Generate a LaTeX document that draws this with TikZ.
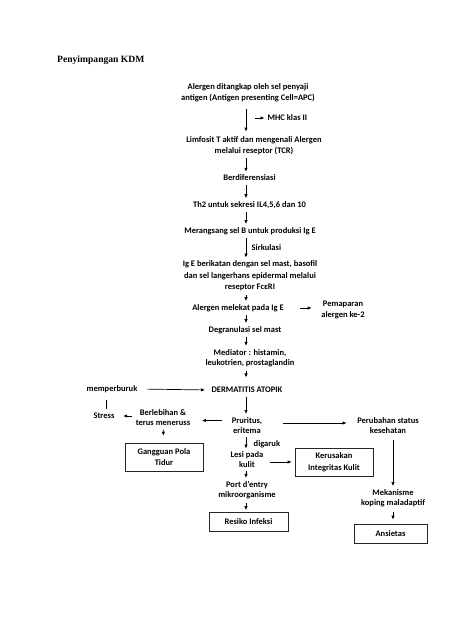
\documentclass[tikz,border=0pt]{standalone}
\usepackage{fontspec}
\newfontfamily\cf{Carlito}
\newfontfamily\tf{Liberation Serif}
\usetikzlibrary{arrows.meta}
\begin{document}
\begin{tikzpicture}[x=1pt,y=-1pt,
  txt/.style={font=\cf\bfseries\fontsize{8.5}{11}\selectfont, align=center, inner sep=1.5pt},
  boxn/.style={txt, draw=black!85, line width=0.6pt, inner sep=0pt},
  arr/.style={-{Latex[length=4pt,width=3.4pt]}, line width=0.7pt, shorten <=2pt, shorten >=1.5pt},
  ln/.style={line width=0.7pt}]
\useasboundingbox[fill=white] (0,0) rectangle (474,632);
\coordinate (colx) at (246,0);
\coordinate (colr) at (393,0);

\node[anchor=west, inner sep=0pt, font=\tf\bfseries\fontsize{9.6}{11}\selectfont] (title) at (57,60) {Penyimpangan KDM};

\node[txt] (a1) at (248,93) {Alergen ditangkap oleh sel penyaji\\antigen (Antigen presenting Cell=APC)};
\coordinate (mhcs) at (253,118);
\node[txt, anchor=west] (mhc) at (266,118) {MHC klas II};
\node[txt] (a2) at (254,145.5) {Limfosit T aktif dan mengenali Alergen\\melalui reseptor (TCR)};
\node[txt] (a3) at (249.5,178) {Berdiferensiasi};
\node[txt] (a4) at (249.5,205) {Th2 untuk sekresi IL4,5,6 dan 10};
\node[txt] (a5) at (250,231) {Merangsang sel B untuk produksi Ig E};
\node[txt, anchor=west] (sirk) at (250,248) {Sirkulasi};
\node[txt, font=\cf\bfseries\fontsize{8.5}{11.5}\selectfont] (a6) at (250,276) {Ig E berikatan dengan sel mast, basofil\\dan sel langerhans epidermal melalui\\reseptor FcεRI};
\node[txt] (a7) at (238,308) {Alergen melekat pada Ig E};
\node[txt, font=\cf\bfseries\fontsize{8.5}{10.5}\selectfont] (pem) at (343,310) {Pemaparan\\alergen ke-2};
\node[txt] (a8) at (245,330) {Degranulasi sel mast};
\node[txt, font=\cf\bfseries\fontsize{8.5}{10.5}\selectfont] (a9) at (250,358) {Mediator : histamin,\\leukotrien, prostaglandin};
\node[txt] (a10) at (247,390) {DERMATITIS ATOPIK};
\node[txt] (mp) at (112,389) {memperburuk};
\node[txt] (stress) at (104,416) {Stress};
\node[txt, font=\cf\bfseries\fontsize{8.5}{10}\selectfont] (ber) at (163,418) {Berlebihan \&\\terus meneruss};
\node[boxn, minimum width=78pt, minimum height=28pt, font=\cf\bfseries\fontsize{8.5}{10.5}\selectfont] (gpt) at (164,457) {Gangguan Pola\\Tidur};
\node[txt, font=\cf\bfseries\fontsize{8.5}{10.5}\selectfont] (pru) at (247,425.5) {Pruritus,\\eritema};
\node[txt, font=\cf\bfseries\fontsize{8.5}{10.5}\selectfont] (peru) at (388,425.5) {Perubahan status\\kesehatan};
\node[txt, anchor=west] (dig) at (252,444) {digaruk};
\node[txt, font=\cf\bfseries\fontsize{8.5}{9.5}\selectfont] (lesi) at (247,459.5) {Lesi pada\\kulit};
\node[boxn, minimum width=78pt, minimum height=28pt, font=\cf\bfseries\fontsize{8.5}{12}\selectfont] (kib) at (334,462) {Kerusakan\\Integritas Kulit};
\node[txt, font=\cf\bfseries\fontsize{8.5}{10}\selectfont] (port) at (247,490) {Port d’entry\\mikroorganisme};
\node[boxn, minimum width=79pt, minimum height=19pt] (ri) at (248.5,521.5) {Resiko Infeksi};
\node[txt, font=\cf\bfseries\fontsize{8.5}{10}\selectfont] (mek) at (393,498) {Mekanisme\\koping maladaptif};
\node[boxn, minimum width=73pt, minimum height=19pt] (ans) at (390.5,533.5) {Ansietas};

% main column
\draw[arr, shorten <=5pt, shorten >=3pt] (a1.south -| colx) -- (a2.north -| colx);
\draw[arr] (mhcs) -- (mhc.west);
\draw[arr] (a2.south -| colx) -- (a3.north -| colx);
\draw[arr] (a3.south -| colx) -- (a4.north -| colx);
\draw[arr] (a4.south -| colx) -- (a5.north -| colx);
\draw[arr] (a5.south -| colx) -- (a6.north -| colx);
\draw[arr] (a6.south -| colx) -- (a7.north -| colx);
\draw[arr, shorten <=15pt, shorten >=8pt] (a7.east) -- (pem.west |- a7.east);
\draw[arr] (a7.south -| colx) -- (a8.north -| colx);
\draw[arr] (a8.south -| colx) -- (a9.north -| colx);
\draw[arr, shorten >=8pt] (a9.south -| colx) -- (a10.north -| colx);
\draw[arr, shorten <=8pt, shorten >=5pt] (mp.east) -- (a10.west);
\draw[ln, shorten <=6pt, shorten >=2pt] ([xshift=-6pt]mp.south) -- ([xshift=-6pt]mp.south |- stress.north);
\draw[arr, shorten <=2pt, shorten >=7pt] (ber.west |- stress) -- (stress.east);
\draw[arr, shorten <=8pt, shorten >=10pt] ([yshift=5pt]pru.west) -- ([yshift=5pt]pru.west -| ber.east);
\draw[arr, shorten <=2pt, shorten >=7pt] (ber.south) -- (gpt.north);
\draw[arr] (a10.south -| colx) -- (pru.north -| colx);
\draw[arr, shorten <=19pt, shorten >=9pt] ([yshift=2.5pt]pru.east) -- ([yshift=2.5pt]pru.east -| peru.west);
\draw[arr] (pru.south -| colx) -- (lesi.north -| colx);
\draw[arr, shorten <=5pt, shorten >=3pt] (lesi.east |- kib) -- (kib.west);
\draw[arr] (lesi.south -| colx) -- (port.north -| colx);
\draw[arr] (port.south -| colx) -- (ri.north -| colx);
\draw[arr, shorten <=5pt] (peru.south -| colr) -- (mek.north -| colr);
\draw[arr, shorten <=4pt, shorten >=4pt] (mek.south -| colr) -- (ans.north -| colr);
\end{tikzpicture}
\end{document}
